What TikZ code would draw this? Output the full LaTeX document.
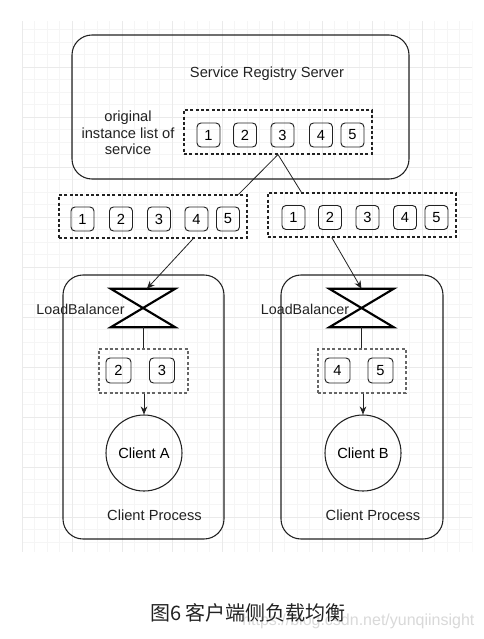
\documentclass[tikz,border=0pt]{standalone}
\usepackage{fontspec}
\setmainfont{Liberation Sans}
\newfontfamily\cjk{Noto Sans CJK SC}
\usetikzlibrary{arrows.meta,calc}
\definecolor{ink}{HTML}{222222}
\definecolor{gminor}{HTML}{F5F5F5}
\definecolor{gmajor}{HTML}{EAEAEA}
\begin{document}
\begin{tikzpicture}[x=0.75pt,y=-0.75pt,
  frame/.style={draw=ink, line width=0.8pt, rounded corners=15pt, inner sep=0pt},
  num/.style={draw=ink, line width=0.7pt, rounded corners=3pt, minimum width=17.25pt, minimum height=18pt, inner sep=0pt, font=\fontsize{11}{13}\selectfont},
  gnum/.style={num, minimum width=18.75pt, minimum height=18.75pt},
  listbox/.style={draw=ink, line width=0.8pt, dash pattern=on 2.2pt off 1.8pt, inner sep=0pt},
  graylist/.style={draw=black!60, line width=1pt, dash pattern=on 2.2pt off 1.8pt, inner sep=0pt},
  conn/.style={draw=ink, line width=0.6pt},
  arr/.style={conn, -{Stealth[length=6pt,width=5pt]}},
  lbshape/.style={minimum width=48pt, minimum height=28.5pt, inner sep=0pt},
  lbline/.style={draw=black, line width=1.6pt, line join=miter},
  txt/.style={font=\fontsize{11}{13}\selectfont, text=ink, inner sep=0pt},
  client/.style={circle, draw=ink, line width=0.8pt, minimum size=57pt, inner sep=0pt, font=\fontsize{11}{13}\selectfont}
]
\useasboundingbox (0,0) rectangle (483,639);
\fill[white] (0,0) rectangle (483,639);
% grid
\begin{scope}
\clip (22,21) rectangle (472,552);
\foreach \i in {0,...,36} {\draw[gminor, line width=0.5pt] ({22+12.5*\i},21) -- ({22+12.5*\i},552);}
\foreach \i in {0,...,44} {\draw[gminor, line width=0.5pt] (22,{17+12.5*\i}) -- (472,{17+12.5*\i});}
\foreach \i in {0,...,9} {\draw[gmajor, line width=0.6pt] ({22+50*\i},21) -- ({22+50*\i},552);}
\foreach \i in {0,...,11} {\draw[gmajor, line width=0.6pt] (22,{17+50*\i}) -- (472,{17+50*\i});}
\end{scope}

% server
\node[frame, minimum width=252.75pt, minimum height=108pt] (server) at (240.5,107) {};
\node[txt] (srvtitle) at (267,74) {Service Registry Server};
\node[txt, align=center, font=\fontsize{11}{12.4}\selectfont] (origtxt) at (128,133) {original\\instance list of\\service};
\node[listbox, minimum width=141pt, minimum height=33pt] (srvlist) at (278,132) {};
\foreach \n/\x in {1/208.5,2/245,3/282.5,4/321,5/352.5} {\node[num] (s\n) at (\x,135) {\n};}

% left list
\node[listbox, minimum width=141pt, minimum height=32.25pt] (listL) at (153,216.5) {};
\foreach \n/\x in {1/82.5,2/121,3/159,4/196.5,5/228} {\node[num] (l\n) at (\x,219) {\n};}
% right list
\node[listbox, minimum width=141pt, minimum height=33pt] (listR) at (362,215) {};
\foreach \n/\x in {1/293.5,2/330,3/367.5,4/405,5/436.5} {\node[num] (r\n) at (\x,217.5) {\n};}

% client process boxes
\node[frame, minimum width=120.75pt, minimum height=198pt] (procA) at (143.5,407) {};
\node[frame, minimum width=121.5pt, minimum height=198pt] (procB) at (362,407) {};

% load balancers
\node[lbshape] (lbA) at (143,308) {};
\node[lbshape] (lbB) at (361.5,308) {};
\draw[lbline] (lbA.north west) -- (lbA.north east) -- (lbA.south west) -- (lbA.south east) -- cycle;
\draw[lbline] (lbB.north west) -- (lbB.north east) -- (lbB.south west) -- (lbB.south east) -- cycle;
\node[txt, font=\fontsize{10.7}{13}\selectfont] (lblA) at (80.5,309) {LoadBalancer};
\node[txt, font=\fontsize{10.7}{13}\selectfont] (lblB) at (305,309) {LoadBalancer};

% filtered lists
\node[graylist, minimum width=66.75pt, minimum height=33pt] (glA) at (143.5,371) {};
\node[gnum] (a2) at (118.5,370.5) {2};
\node[gnum] (a3) at (162,370.5) {3};
\node[graylist, minimum width=66pt, minimum height=33pt] (glB) at (362,371) {};
\node[gnum] (b4) at (337.5,370.5) {4};
\node[gnum] (b5) at (380.5,370.5) {5};

% clients
\node[client] (cliA) at (144,453) {Client A};
\node[client] (cliB) at (363,453) {Client B};
\node[txt] (cpA) at (154.5,515) {Client Process};
\node[txt] (cpB) at (373,515) {Client Process};

% connectors
\draw[conn] (srvlist.south) -- ($(listL.north west)!0.952!(listL.north east)$);
\draw[conn] (srvlist.south) -- ($(listR.north west)!0.18!(listR.north east)$);
\draw[arr] ($(listL.south west)!0.713!(listL.south east)$) -- ($(lbA.north west)!0.56!(lbA.north east)$);
\draw[arr] ($(listR.south west)!0.34!(listR.south east)$) -- (lbB.north);
\draw[conn] (lbA.south) -- (lbA.south |- glA.north);
\draw[conn] (lbB.south) -- (lbB.south |- glB.north);
\draw[arr] (cliA.north |- glA.south) -- (cliA.north);
\draw[arr] (cliB.north |- glB.south) -- (cliB.north);

% caption and watermark
\node[anchor=west, inner sep=0pt, text=black!15, font=\fontsize{12}{14}\selectfont] (wm) at (242,621) {https://blog.csdn.net/yunqiinsight};
\node[anchor=west, inner sep=0pt, text=ink, font=\cjk\fontsize{15}{18}\selectfont] (cap) at (150,613) {图6 客户端侧负载均衡};
\end{tikzpicture}
\end{document}
